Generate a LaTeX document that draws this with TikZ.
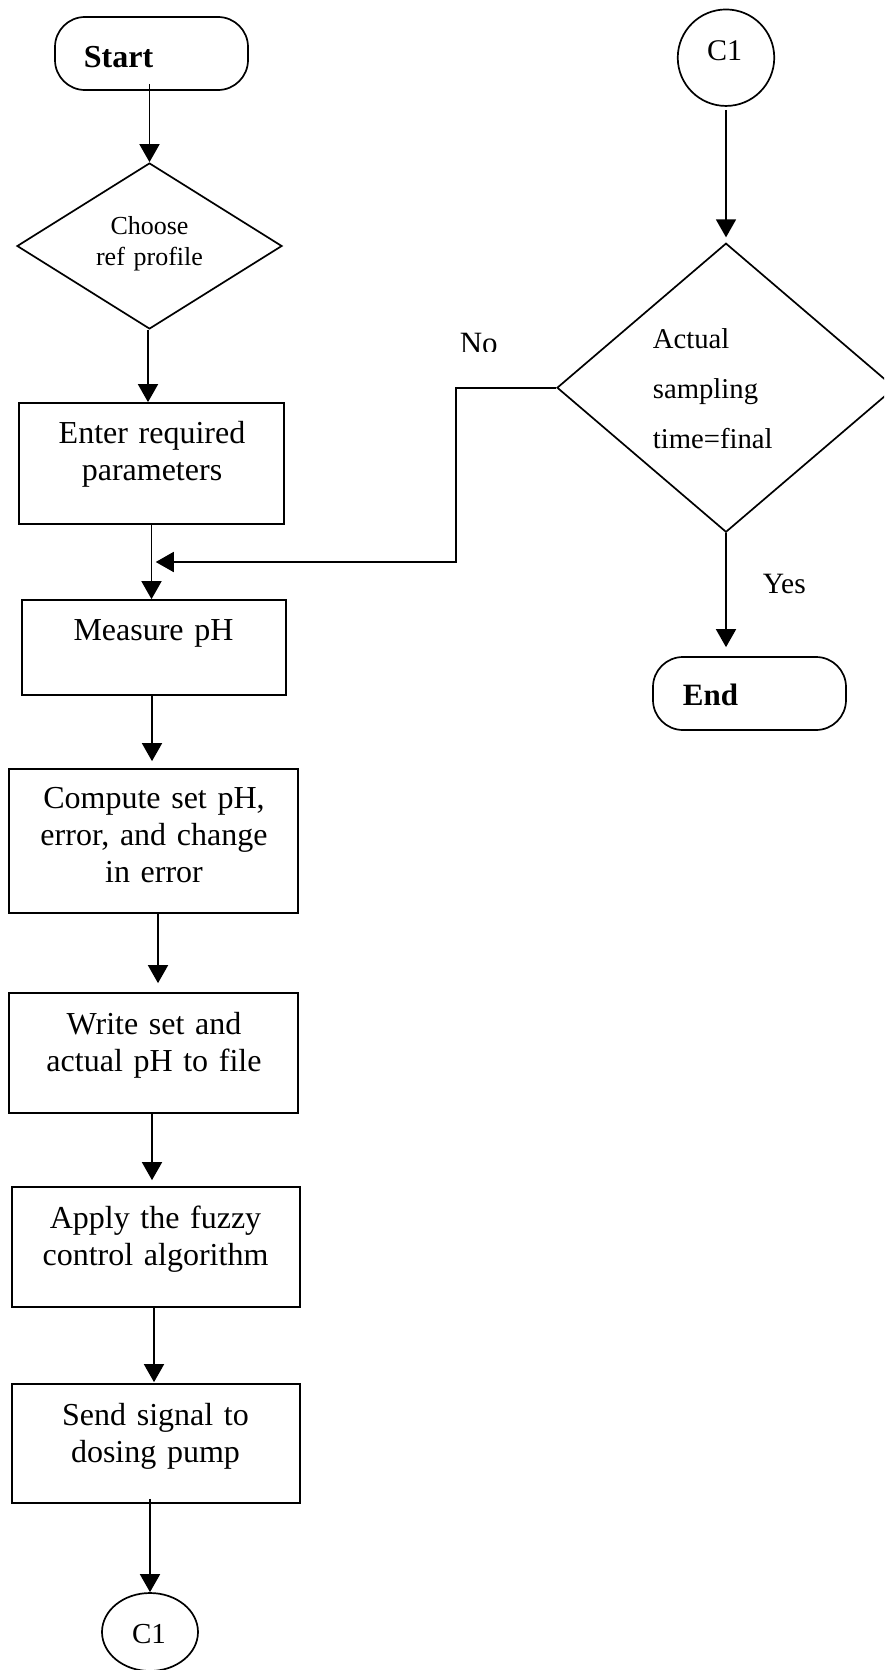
\documentclass[tikz,border=0pt]{standalone}
\usepackage{fontspec}
\setmainfont{Liberation Serif}
\usetikzlibrary{arrows.meta,shapes.geometric,calc}
\begin{document}
\begin{tikzpicture}[x=1pt,y=-1pt,
  line width=1.7pt,
  flow/.style={-{Triangle[width=20pt,length=18pt]}},
  procbox/.style={draw, rectangle, inner sep=0pt},
  term/.style={draw, rectangle, rounded corners=30pt, minimum width=193pt,
                minimum height=73pt, inner sep=0pt},
  decide/.style={draw, diamond, inner sep=0pt},
  conn/.style={draw, ellipse, inner sep=0pt},
  body/.style={font=\fontsize{32}{37}\selectfont, text width=300pt,
               align=center, anchor=base, inner sep=0pt},
  small/.style={font=\fontsize{26}{31}\selectfont, text width=200pt,
               align=center, anchor=base, inner sep=0pt},
  label/.style={inner sep=0pt, anchor=base west},
]
\useasboundingbox (0,0) rectangle (884,1670);
\clip (0,0) rectangle (884,1670);

% ---- left column ----
\node[term] (start) at (151.5,53.5) {};
\node[label, font=\fontsize{32}{37}\selectfont\bfseries] (start-t) at (83,67) {Start};

\node[decide, minimum width=265pt, minimum height=166pt] (choose) at (149.5,246) {};
\node[small] (choose-t) at (149.5,234) {Choose\\ref profile};

\node[procbox, minimum width=265pt, minimum height=121pt] (enter) at (151.5,463.5) {};
\node[body] (enter-t) at (152,443) {Enter required\\parameters};

\node[procbox, minimum width=264pt, minimum height=95pt] (measure) at (154,647.5) {};
\node[body] (measure-t) at (153.5,640) {Measure pH};

\node[procbox, minimum width=289pt, minimum height=144pt] (compute) at (153.5,841) {};
\node[body] (compute-t) at (154,808) {Compute set pH,\\error, and change\\in error};

\node[procbox, minimum width=289pt, minimum height=120pt] (write) at (153.5,1053) {};
\node[body] (write-t) at (154,1034) {Write set and\\actual pH to file};

\node[procbox, minimum width=288pt, minimum height=120pt] (apply) at (156,1247) {};
\node[body] (apply-t) at (155.5,1228) {Apply the fuzzy\\control algorithm};

\node[procbox, minimum width=288pt, minimum height=119pt] (send) at (156,1443.5) {};
\node[body] (send-t) at (155.5,1425) {Send signal to\\dosing pump};

\node[conn, minimum width=96pt, minimum height=78pt] (c1b) at (150,1632) {};
\node[inner sep=0pt, anchor=base, font=\fontsize{29}{34}\selectfont] (c1b-t) at (149,1643) {C1};

% ---- right column ----
\node[conn, minimum width=96.5pt, minimum height=96.5pt] (c1a) at (726,57.7) {};
\node[inner sep=0pt, anchor=base, font=\fontsize{30}{34}\selectfont] (c1a-t) at (724.5,61) {C1};

\node[decide, minimum width=338pt, minimum height=289pt] (dec) at (726,387.7) {};
\node[label, text width=200pt, align=left, font=\fontsize{28.7}{50}\selectfont] (dec-t) at (652,348.3) {Actual\\sampling\\time=final};

\node[term] (end) at (749.5,693.5) {};
\node[label, font=\fontsize{31}{36}\selectfont\bfseries] (end-t) at (682,705) {End};

\node[label, font=\fontsize{29.5}{34}\selectfont] (yes) at (762,593) {Yes};
\begin{scope}
  \clip (430,310) rectangle (540,351.7);
  \node[label, font=\fontsize{31}{36}\selectfont] (no) at (459,353.5) {No};
\end{scope}

% ---- connectors ----
\coordinate (nocorner) at (456,387.7);
\coordinate (merge) at ($(enter.south)!0.5!(measure.north)$);

\draw[flow] ([yshift=7pt]choose.north |- start.south) -- (choose.north);
\draw[flow] ([xshift=-1.5pt]choose.south) -- ([xshift=-1.5pt]choose.south |- enter.north);
\draw[flow] (enter.south) -- (enter.south |- measure.north);
\draw[flow, shorten >=7pt] ([xshift=-2pt]measure.south) -- ([xshift=-2pt]measure.south |- compute.north);
\draw[flow, shorten >=9pt] ([xshift=4.5pt]compute.south) -- ([xshift=4.5pt]compute.south |- write.north);
\draw[flow, shorten >=6pt] ([xshift=-1.5pt]write.south) -- ([xshift=-1.5pt]write.south |- apply.north);
\draw[flow, shorten >=1pt] ([xshift=-2pt]apply.south) -- ([xshift=-2pt]apply.south |- send.north);
\draw[flow] ([yshift=5pt]c1b.north |- send.south) -- (c1b.north);

\draw[flow, shorten <=3pt, shorten >=5pt] (c1a.south) -- (dec.north);
\draw[flow, shorten >=9pt] (dec.south) -- (dec.south |- end.north);
\draw[flow, shorten >=3pt] (dec.west) -- (nocorner) |- (merge);
\end{tikzpicture}
\end{document}
